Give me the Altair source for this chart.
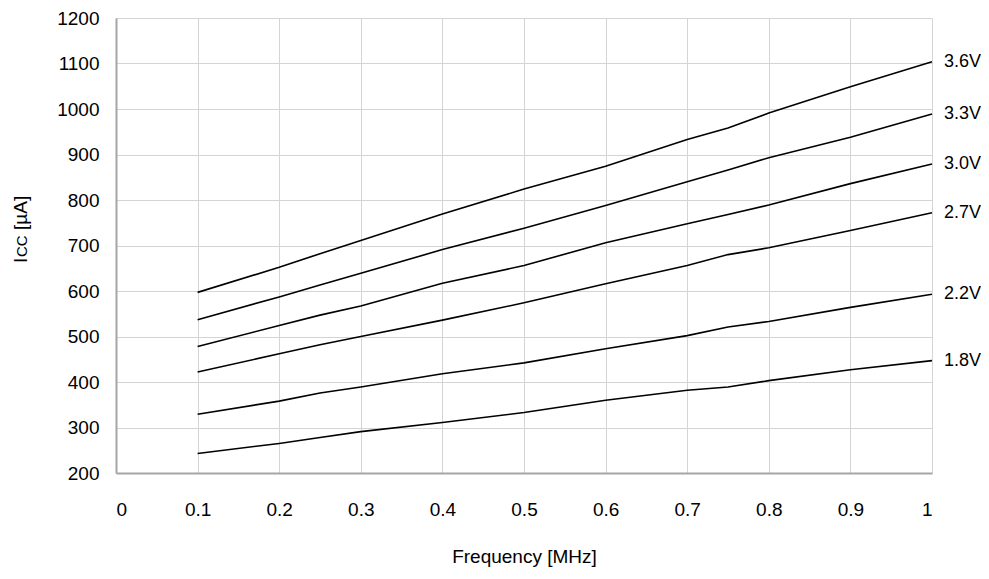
import altair as alt
import pandas as pd

freq = [0.1, 0.2, 0.25, 0.3, 0.4, 0.5, 0.6, 0.7, 0.75, 0.8, 0.9, 1.0]
series_names = ["3.6V", "3.3V", "3.0V", "2.7V", "2.2V", "1.8V"]
v36 = [597, 652, 682, 711, 769, 824, 874, 933, 958, 991, 1049, 1104]
v33 = [537, 587, 613, 639, 691, 738, 788, 840, 866, 893, 938, 989]
v30 = [478, 524, 547, 567, 617, 656, 706, 748, 768, 789, 836, 879]
v27 = [422, 462, 482, 500, 536, 574, 616, 656, 680, 695, 733, 772]
v22 = [329, 358, 376, 389, 418, 442, 473, 502, 521, 533, 564, 593]
v18 = [243, 265, 278, 291, 311, 333, 360, 382, 389, 403, 427, 447]
x_ticks = [0, 0.1, 0.2, 0.3, 0.4, 0.5, 0.6, 0.7, 0.8, 0.9, 1]
y_ticks = [200, 300, 400, 500, 600, 700, 800, 900, 1000, 1100, 1200]

rows = []
for name, vals in zip(series_names, [v36, v33, v30, v27, v22, v18]):
    for f, v in zip(freq, vals):
        rows.append({"series": name, "freq": f, "icc": v})
df = pd.DataFrame(rows)
last = df[df["freq"] == 1.0]

FONT = "Liberation Sans"

x = alt.X("freq:Q", scale=alt.Scale(domain=[0, 1], nice=False),
          axis=alt.Axis(values=x_ticks, title="Frequency [MHz]", format="~g",
                        labelPadding=27, titlePadding=28, ticks=False,
                        grid=True, gridColor="#d4d4d4", gridWidth=1,
                        domainColor="#a6a6a6", domainWidth=2,
                        labelFontSize=19, titleFontSize=19, titleFontWeight="normal",
                        labelFont=FONT, titleFont=FONT, labelColor="#000", titleColor="#000"))
y = alt.Y("icc:Q", scale=alt.Scale(domain=[200, 1200], nice=False),
          axis=alt.Axis(values=y_ticks, title=None, ticks=False, labelPadding=17,
                        format="d",
                        grid=True, gridColor="#d4d4d4", gridWidth=1,
                        domainColor="#a6a6a6", domainWidth=2,
                        labelFontSize=19, labelFont=FONT, labelColor="#000"))

lines = alt.Chart(df).mark_line(color="black", strokeWidth=1.6).encode(
    x=x, y=y, detail="series:N")

labels = alt.Chart(last).mark_text(align="left", baseline="middle", dx=12,
                                   fontSize=18, font=FONT, color="black").encode(
    x="freq:Q", y="icc:Q", text="series:N")

def ytitle(t, yp, size):
    return alt.Chart(pd.DataFrame({"t": [t]})).mark_text(
        angle=270, align="left", baseline="alphabetic", fontSize=size,
        font=FONT, color="black").encode(
        x=alt.value(-89), y=alt.value(yp), text="t:N")

title_parts = ytitle("I", 245, 19) + ytitle("CC", 239, 15) + ytitle("[µA]", 212, 19)

chart = (lines + labels + title_parts).properties(
    width=816, height=455,
    autosize=alt.AutoSizeParams(type="none"),
    padding={"left": 108, "top": 10, "right": 49, "bottom": 98},
).configure_view(stroke=None)

chart.save("out.html", embed_options={"renderer": "svg", "actions": False})
